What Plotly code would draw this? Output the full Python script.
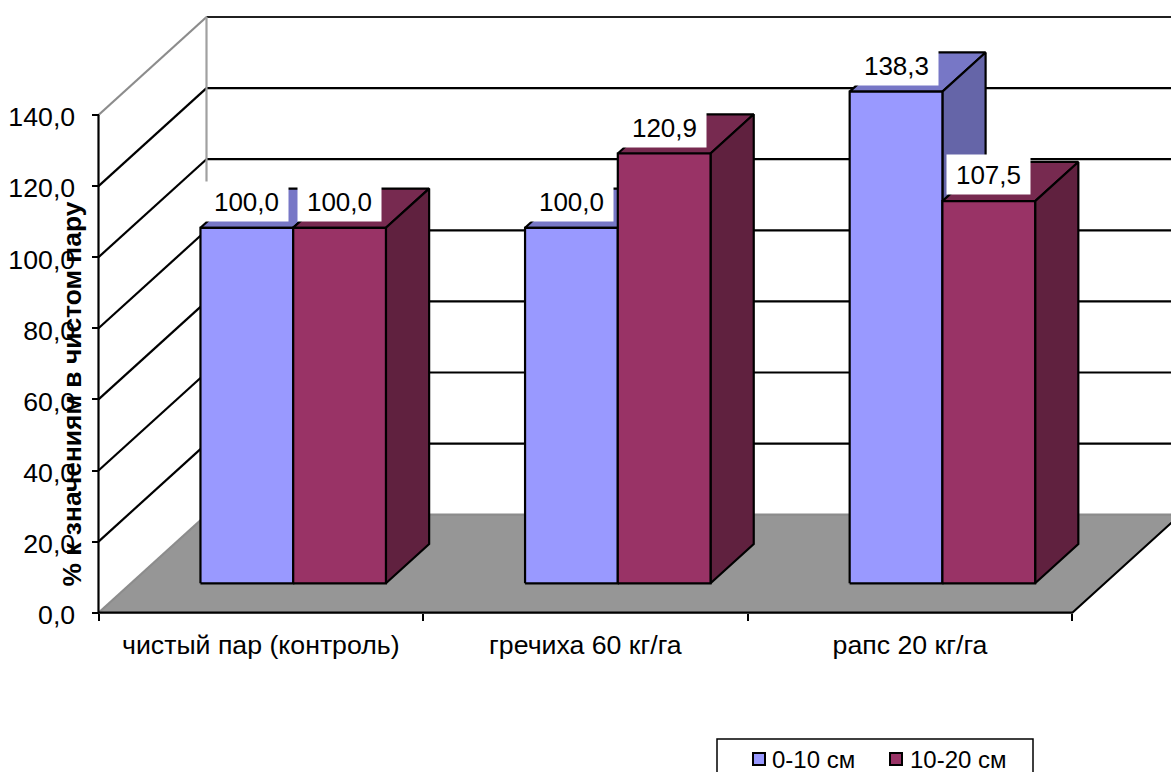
import plotly.graph_objects as go

# Chart data
categories = ["чистый пар (контроль)", "гречиха 60 кг/га", "рапс 20 кг/га"]
series_names = ["0-10 см", "10-20 см"]
values_0_10 = [100.0, 100.0, 138.3]
values_10_20 = [100.0, 120.9, 107.5]
y_ticks = [0, 20, 40, 60, 80, 100, 120, 140]
axis_title = "% к значениям в чистом пару"

WIDTH, HEIGHT = 1171, 772
ORIGIN_X, ORIGIN_Y = 98.5, 612.7      # page position of the axes' origin
CAT_PX, VAL_PX = 324.6, 3.555         # pixels per category and per value unit
DEPTH_X = 108 / CAT_PX                # oblique depth vector in axis units
DEPTH_Y = 98 / VAL_PX
BAR_W = 1 / 3.5                       # two bars plus a 150 % gap
DEPTH_FRONT, DEPTH_BACK = 0.3, 0.7
FONT = "Liberation Sans"
FS_AXIS = 26.7
FS_LABEL = 26
FS_KEY = 24
FS_TITLE = 26.4
LINE_W = 2.2

FRONT = ["#9999FF", "#993366"]
TOP = ["#7777C6", "#772A50"]
SIDE = ["#6565A8", "#60213F"]
FLOOR = "#969696"
WALL_EDGE = "#8C8C8C"
x_max = (WIDTH - ORIGIN_X) / CAT_PX
x_min = -ORIGIN_X / CAT_PX
y_max = ORIGIN_Y / VAL_PX
y_min = (ORIGIN_Y - HEIGHT) / VAL_PX
n_cats = len(categories)


def page_x(px):
    return (px - ORIGIN_X) / CAT_PX


def page_y(px):
    return (ORIGIN_Y - px) / VAL_PX


def project(x, y, depth):
    """Oblique projection of a point lying at a fractional depth."""
    return x + depth * DEPTH_X, y + depth * DEPTH_Y


def poly(points, fill, line="black", width=LINE_W):
    xs = [p[0] for p in points] + [points[0][0]]
    ys = [p[1] for p in points] + [points[0][1]]
    return go.Scatter(x=xs, y=ys, mode="lines", fill="toself", fillcolor=fill,
                      line=dict(color=line, width=width), hoverinfo="skip",
                      showlegend=False)


def line(xs, ys, color="black", width=LINE_W):
    return go.Scatter(x=xs, y=ys, mode="lines", line=dict(color=color, width=width),
                      hoverinfo="skip", showlegend=False)


fig = go.Figure()

# Floor
floor = [project(0, 0, 0), project(n_cats, 0, 0), project(n_cats, 0, 1), project(0, 0, 1)]
fig.add_trace(poly(floor, FLOOR, line=FLOOR, width=1))
fig.add_trace(line([floor[3][0], floor[0][0]], [floor[3][1], floor[0][1]], WALL_EDGE))
fig.add_trace(line([floor[3][0], floor[2][0]], [floor[3][1], floor[2][1]], WALL_EDGE))
fig.add_trace(line([floor[0][0], floor[1][0], floor[2][0]], [floor[0][1], floor[1][1], floor[2][1]]))

# Wall gridlines: side wall diagonal plus back wall horizontal at every tick
for tick in y_ticks[1:]:
    bx, by = project(0, tick, 1)
    ex, ey = project(n_cats, tick, 1)
    diag_color = WALL_EDGE if tick == y_ticks[-1] else "black"
    fig.add_trace(line([0, bx], [tick, by], diag_color))
    fig.add_trace(line([bx, ex], [by, ey], "#202020" if tick == y_ticks[-1] else "black"))

# Corner of the two walls and the value axis
cx0, cy0 = project(0, 0, 1)
cx1, cy1 = project(0, y_ticks[-1], 1)
fig.add_trace(line([cx0, cx1], [cy0, cy1], "#A0A0A0"))
fig.add_trace(line([0, 0], [0, y_ticks[-1]]))

# Bars, painted left to right so each front face covers its neighbour's side
annotations = []
for c in range(n_cats):
    left = c + (1 - 2 * BAR_W) / 2
    for s, vals in enumerate([values_0_10, values_10_20]):
        v = vals[c]
        x0, x1 = left + s * BAR_W, left + (s + 1) * BAR_W
        f = lambda x, y: project(x, y, DEPTH_FRONT)
        b = lambda x, y: project(x, y, DEPTH_BACK)
        fig.add_trace(poly([f(x0, v), f(x1, v), b(x1, v), b(x0, v)], TOP[s]))
        fig.add_trace(poly([f(x1, 0), f(x1, v), b(x1, v), b(x1, 0)], SIDE[s]))
        fig.add_trace(poly([f(x0, 0), f(x1, 0), f(x1, v), f(x0, v)], FRONT[s]))
        lx, ly = f((x0 + x1) / 2, v)
        annotations.append(dict(
            x=lx, y=ly + 26.5 / VAL_PX, xref="x", yref="y", showarrow=False,
            text=f"{v:.1f}".replace(".", ","), bgcolor="white", width=83, height=39,
            borderpad=0, align="center", valign="middle",
            font=dict(family=FONT, size=FS_LABEL, color="black")))

annotations.append(dict(
    x=71.5 / WIDTH, y=1 - 394 / HEIGHT, xref="paper", yref="paper", showarrow=False,
    xanchor="center", yanchor="middle",
    text=f"<b>{axis_title}</b>", textangle=-90,
    font=dict(family=FONT, size=FS_TITLE, color="black")))

# Key below the plot
key_centres = [759, 896]
key_text_x = [771, 909]
for s, name in enumerate(series_names):
    fig.add_trace(go.Scatter(
        x=[page_x(key_centres[s])], y=[page_y(759)], mode="markers", name=name,
        marker=dict(symbol="square", size=12, color=FRONT[s], line=dict(color="black", width=2)),
        hoverinfo="skip", showlegend=False))
    annotations.append(dict(
        x=key_text_x[s] / WIDTH, y=1 - 759 / HEIGHT, xref="paper", yref="paper",
        xanchor="left", yanchor="middle", showarrow=False, text=name, borderpad=0,
        font=dict(family=FONT, size=FS_KEY, color="black")))

fig.update_layout(
    width=WIDTH, height=HEIGHT, margin=dict(l=0, r=0, t=0, b=0),
    paper_bgcolor="white", plot_bgcolor="white", showlegend=False,
    font=dict(family=FONT, size=FS_AXIS, color="black"),
    annotations=annotations,
    shapes=[dict(type="rect", xref="paper", yref="paper",
                 x0=717 / WIDTH, x1=1033 / WIDTH, y0=-0.02, y1=1 - 739 / HEIGHT,
                 line=dict(color="black", width=1.5), fillcolor="rgba(0,0,0,0)")],
    xaxis=dict(
        range=[x_min, x_max], anchor="free", position=(HEIGHT - ORIGIN_Y) / HEIGHT,
        showgrid=False, zeroline=False, showline=False,
        tickmode="array", tickvals=[i + 0.5 for i in range(n_cats)], ticktext=categories,
        ticks="outside", ticklen=8, tickcolor="rgba(0,0,0,0)", tickangle=0,
        tickfont=dict(family=FONT, size=FS_AXIS, color="black"),
        minor=dict(tickmode="array", tickvals=list(range(n_cats + 1)), ticks="outside",
                   ticklen=7, tickcolor="black", tickwidth=1.5, showgrid=False),
    ),
    yaxis=dict(
        range=[y_min, y_max], anchor="free", position=ORIGIN_X / WIDTH,
        showgrid=False, zeroline=False, showline=False,
        tickmode="array", tickvals=y_ticks,
        ticktext=[f"{t:.1f}".replace(".", ",") for t in y_ticks],
        ticks="outside", ticklen=7, tickcolor="black", tickwidth=1.5,
        ticklabelstandoff=11, ticklabelshift=2,
        tickfont=dict(family=FONT, size=FS_AXIS, color="black"),
    ),
)

fig.write_html("out.html", config=dict(displayModeBar=False))
